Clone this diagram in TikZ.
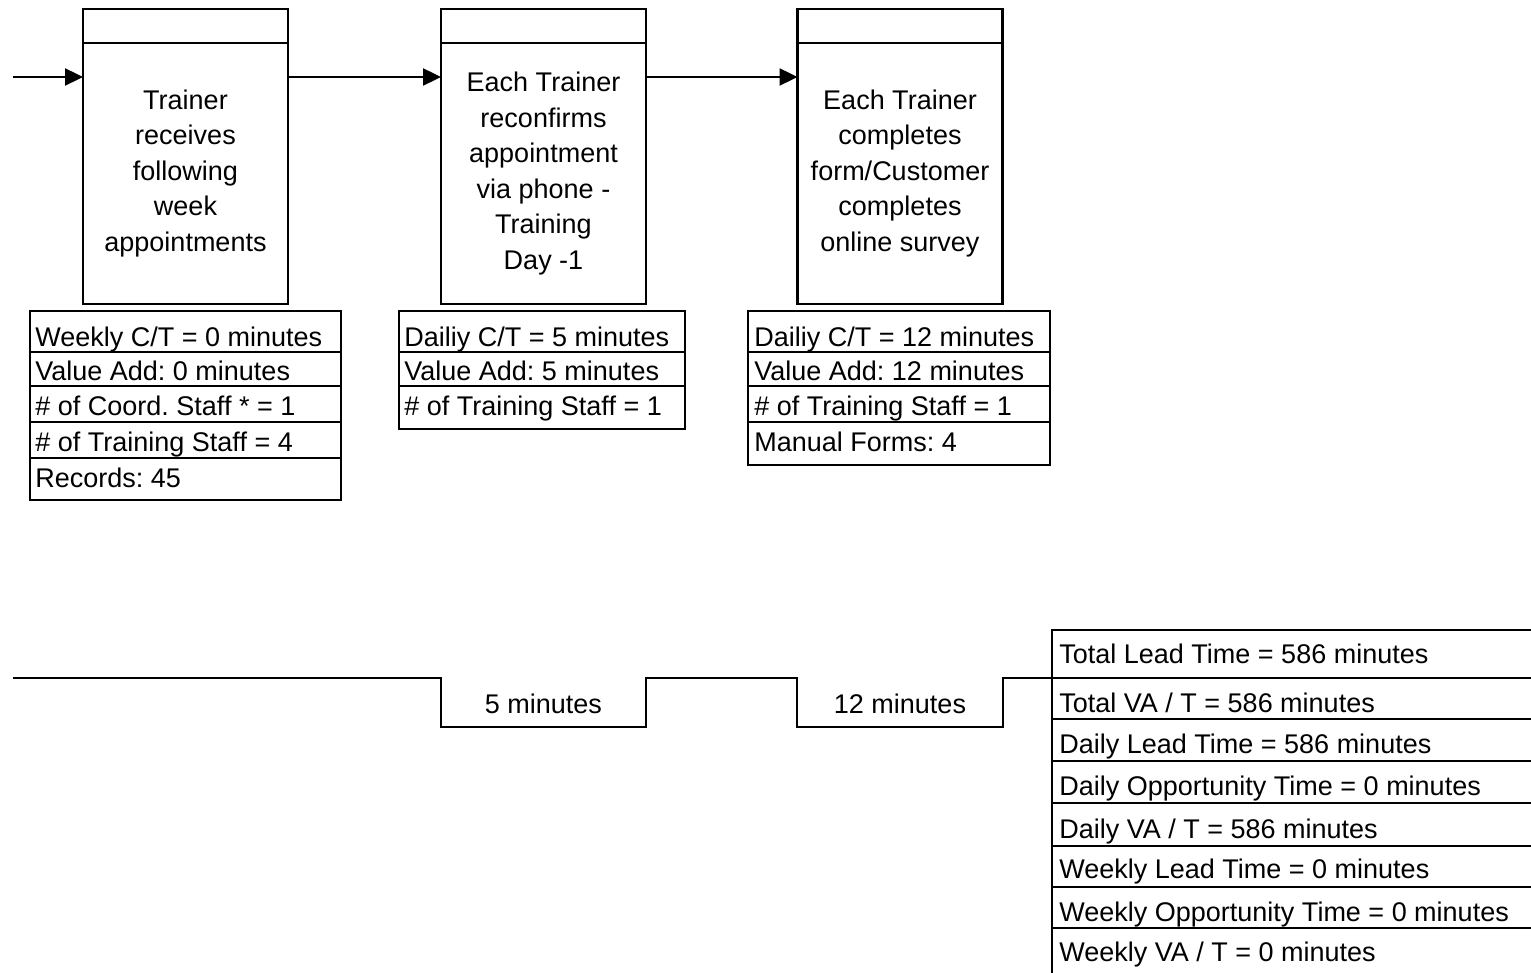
\documentclass[tikz,border=0pt]{standalone}
\usepackage{fontspec}
\setmainfont{Liberation Sans}
\usetikzlibrary{arrows.meta,positioning}
\frenchspacing

\begin{document}
\begin{tikzpicture}[x=0.5pt,y=-0.5pt,
  every node/.style={font=\fontsize{13.5}{17.75}\selectfont},
  proc/.style={draw,line width=1.2pt,minimum width=102.5pt,minimum height=130.5pt,
    inner sep=0pt,outer sep=0pt,align=center},
  cell/.style={anchor=base west,inner sep=0pt},
  flow/.style={line width=1.2pt,-{Triangle[length=9pt,width=8.5pt]}},
  tbl/.style={line width=1.2pt}]
  \path[use as bounding box] (0,0) rectangle (1531,973);
  \clip (0,0) rectangle (1531,973);

  % process boxes, each with an empty strip on top
  \node[proc] (p1) at (185.5,173.5) {Trainer\\receives\\following\\week\\appointments};
  \node[proc] (p2) at (543.5,173.5) {Each Trainer\\reconfirms\\appointment\\via phone -\\Training\\Day -1};
  \node[proc] (p3) at (900,173.5) {Each Trainer\\completes\\form/Customer\\completes\\online survey};
  \foreach \p in {p1,p2,p3}
    \draw[tbl] (\p.north west) -- ++(0,-34) -| (\p.north east);

  % flow arrows
  \coordinate (start) at (13,77);
  \draw[flow] (start) -- (start -| p1.west);
  \draw[flow] (p1.east |- start) -- (p2.west |- start);
  \draw[flow] (p2.east |- start) -- (p3.west |- start);

  % data box under step 1
  \draw[tbl] (30,311) rectangle (341,500);
  \foreach \y in {352,386,422,458} \draw[tbl] (30,\y) -- (341,\y);
  \node[cell] (d1a) at (35,346) {Weekly C/T = 0 minutes};
  \node[cell] (d1b) at (35,380) {Value Add: 0 minutes};
  \node[cell] (d1c) at (35,415) {\# of Coord. Staff * = 1};
  \node[cell] (d1d) at (35,451) {\# of Training Staff = 4};
  \node[cell] (d1e) at (35,487) {Records: 45};

  % data box under step 2
  \draw[tbl] (399,311) rectangle (685,429);
  \foreach \y in {352,386} \draw[tbl] (399,\y) -- (685,\y);
  \node[cell] (d2a) at (404,346) {Dailiy C/T = 5 minutes};
  \node[cell] (d2b) at (404,380) {Value Add: 5 minutes};
  \node[cell] (d2c) at (404,415) {\# of Training Staff = 1};

  % data box under step 3
  \draw[tbl] (748,311) rectangle (1050,465);
  \foreach \y in {352,386,422} \draw[tbl] (748,\y) -- (1050,\y);
  \node[cell] (d3a) at (754,346) {Dailiy C/T = 12 minutes};
  \node[cell] (d3b) at (754,380) {Value Add: 12 minutes};
  \node[cell] (d3c) at (754,415) {\# of Training Staff = 1};
  \node[cell] (d3d) at (754,451) {Manual Forms: 4};

  % timeline ladder
  \draw[tbl] (13,678) -- (441,678) -- (441,727) -- (646,727) -- (646,678)
     -- (797,678) -- (797,727) -- (1003,727) -- (1003,678) -- (1052,678);
  \node[anchor=base] (t2) at (543.5,713) {5 minutes};
  \node[anchor=base] (t3) at (900,713) {12 minutes};

  % summary table
  \draw[tbl] (1052,630) rectangle (1545,990);
  \foreach \y in {678,719,761,803,846,887,928} \draw[tbl] (1052,\y) -- (1545,\y);
  \node[cell] (s1) at (1059,663) {Total Lead Time = 586 minutes};
  \node[cell] (s2) at (1059,712) {Total VA / T = 586 minutes};
  \node[cell] (s3) at (1059,753) {Daily Lead Time = 586 minutes};
  \node[cell] (s4) at (1059,795) {Daily Opportunity Time = 0 minutes};
  \node[cell] (s5) at (1059,838) {Daily VA / T = 586 minutes};
  \node[cell] (s6) at (1059,878) {Weekly Lead Time = 0 minutes};
  \node[cell] (s7) at (1059,921) {Weekly Opportunity Time = 0 minutes};
  \node[cell] (s8) at (1059,961) {Weekly VA / T = 0 minutes};
\end{tikzpicture}
\end{document}
